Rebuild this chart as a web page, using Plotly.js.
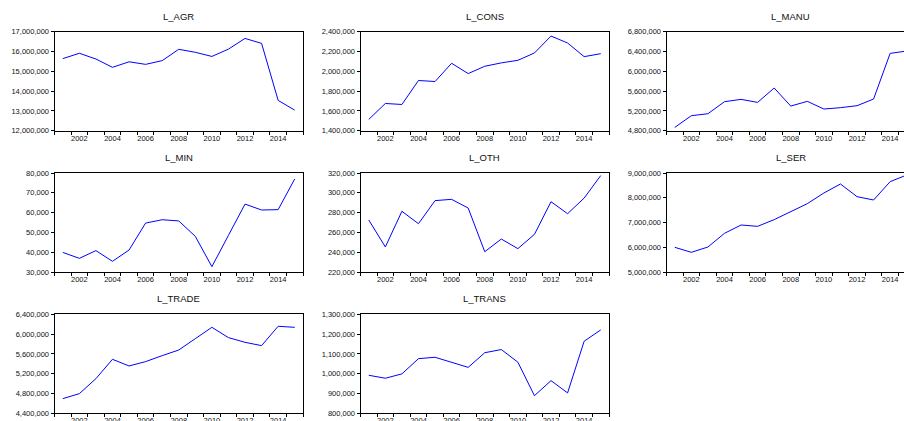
<!DOCTYPE html>
<html>
<head>
<meta charset="utf-8">
<script src="https://cdn.plot.ly/plotly-3.0.1.min.js"></script>
<style>
  html, body { margin: 0; padding: 0; background: #fff; overflow: hidden; }
  #chart { width: 920px; height: 430px; }
</style>
</head>
<body>
<div id="chart"></div>
<script>
// Annual employment by sector, 2001-2015
const years = [2001, 2002, 2003, 2004, 2005, 2006, 2007, 2008, 2009, 2010, 2011, 2012, 2013, 2014, 2015];

const L_AGR   = [15640000, 15910000, 15620000, 15200000, 15480000, 15350000, 15540000, 16110000, 15960000, 15750000, 16120000, 16660000, 16410000, 13530000, 13040000];
const L_CONS  = [1514000, 1675000, 1665000, 1907000, 1897000, 2081000, 1977000, 2051000, 2085000, 2111000, 2185000, 2356000, 2286000, 2148000, 2178000];
const L_MANU  = [4867000, 5103000, 5143000, 5386000, 5433000, 5372000, 5662000, 5298000, 5393000, 5238000, 5265000, 5305000, 5440000, 6362000, 6410000];
const L_MIN   = [39900, 36900, 40800, 35400, 41100, 54700, 56400, 55800, 48000, 32700, 48500, 64300, 61300, 61500, 77000];
const L_OTH   = [272500, 245300, 281300, 268800, 292100, 293400, 284600, 240500, 253300, 243600, 258000, 291000, 278900, 294700, 317400];
const L_SER   = [5997000, 5795000, 6010000, 6562000, 6899000, 6845000, 7115000, 7451000, 7761000, 8192000, 8556000, 8044000, 7909000, 8650000, 8920000];
const L_TRADE = [4696000, 4797000, 5100000, 5491000, 5356000, 5444000, 5565000, 5679000, 5908000, 6137000, 5929000, 5834000, 5767000, 6158000, 6137000];
const L_TRANS = [992000, 977000, 999000, 1076000, 1083000, 1059000, 1032000, 1106000, 1122000, 1058000, 889000, 965000, 903000, 1164000, 1221000];

const xLabelYears = [2002, 2004, 2006, 2008, 2010, 2012, 2014];

// Panel name, series, y range and tick step
const panels = [
  { name: "L_AGR",   y: L_AGR,   range: [12000000, 17000000], dtick: 1000000 },
  { name: "L_CONS",  y: L_CONS,  range: [1400000, 2400000],   dtick: 200000 },
  { name: "L_MANU",  y: L_MANU,  range: [4800000, 6800000],   dtick: 400000 },
  { name: "L_MIN",   y: L_MIN,   range: [30000, 80000],       dtick: 10000 },
  { name: "L_OTH",   y: L_OTH,   range: [220000, 320000],     dtick: 20000 },
  { name: "L_SER",   y: L_SER,   range: [5000000, 9000000],   dtick: 1000000 },
  { name: "L_TRADE", y: L_TRADE, range: [4400000, 6400000],   dtick: 400000 },
  { name: "L_TRANS", y: L_TRANS, range: [800000, 1300000],    dtick: 100000 }
];

const W = 920, H = 430;
const colLeft0 = 54.5, colWidth = 248.5, colPitch = 306;
const rowTop0 = 31.7, rowHeight = 99, rowPitch = 141.3;
const FONT = "Arial, 'Liberation Sans', sans-serif";

const traces = [];
const layout = {
  width: W, height: H,
  margin: { l: 0, r: 0, t: 0, b: 0 },
  paper_bgcolor: "#ffffff",
  plot_bgcolor: "#ffffff",
  showlegend: false,
  font: { family: FONT, size: 7.5, color: "#111111" },
  annotations: []
};

panels.forEach((p, i) => {
  const row = Math.floor(i / 3), col = i % 3;
  const left = colLeft0 + col * colPitch;
  const right = left + colWidth;
  const top = rowTop0 + row * rowPitch;
  const bottom = top + rowHeight;
  const n = i + 1;
  const xa = "xaxis" + (n === 1 ? "" : n);
  const ya = "yaxis" + (n === 1 ? "" : n);

  traces.push({
    x: years, y: p.y, type: "scatter", mode: "lines",
    xaxis: "x" + (n === 1 ? "" : n), yaxis: "y" + (n === 1 ? "" : n),
    line: { color: "#0000ff", width: 1 },
    hoverinfo: "skip"
  });

  layout[xa] = {
    domain: [left / W, right / W],
    anchor: "y" + (n === 1 ? "" : n),
    range: [2000.5, 2015.5],
    tickmode: "array", tickvals: xLabelYears, ticktext: xLabelYears.map(String),
    ticks: "", ticklen: 0,
    minor: { tick0: 2000.5, dtick: 1, ticks: "outside", ticklen: 3, tickcolor: "#000", tickwidth: 1, showgrid: false },
    showgrid: false, zeroline: false,
    showline: true, linecolor: "#000", linewidth: 1, mirror: true,
    tickfont: { family: FONT, size: 7.5, color: "#111" },
    fixedrange: true
  };
  layout[ya] = {
    domain: [(H - bottom) / H, (H - top) / H],
    anchor: "x" + (n === 1 ? "" : n),
    range: p.range, tick0: p.range[0], dtick: p.dtick,
    tickformat: ",d",
    ticks: "outside", ticklen: 3, tickcolor: "#000", tickwidth: 1,
    showgrid: false, zeroline: false,
    showline: true, linecolor: "#000", linewidth: 1, mirror: true,
    tickfont: { family: FONT, size: 7.5, color: "#111" },
    fixedrange: true
  };

  layout.annotations.push({
    text: p.name, showarrow: false,
    xref: "paper", yref: "paper",
    x: (left + right) / 2 / W, y: (H - (top - 15.7)) / H,
    xanchor: "center", yanchor: "middle",
    font: { family: FONT, size: 9.5, color: "#111" }
  });
});

Plotly.newPlot("chart", traces, layout, { staticPlot: true, displayModeBar: false });
</script>
</body>
</html>
